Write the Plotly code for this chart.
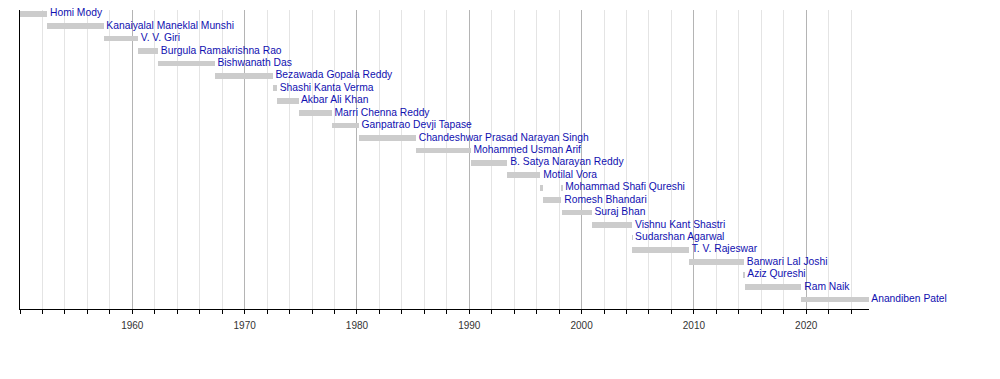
import pandas as pd
import plotly.graph_objects as go

# Governors (row order, top to bottom)
governors = [
    "Homi Mody", "Kanaiyalal Maneklal Munshi", "V. V. Giri", "Burgula Ramakrishna Rao",
    "Bishwanath Das", "Bezawada Gopala Reddy", "Shashi Kanta Verma", "Akbar Ali Khan",
    "Marri Chenna Reddy", "Ganpatrao Devji Tapase", "Chandeshwar Prasad Narayan Singh",
    "Mohammed Usman Arif", "B. Satya Narayan Reddy", "Motilal Vora",
    "Mohammad Shafi Qureshi", "Romesh Bhandari", "Suraj Bhan", "Vishnu Kant Shastri",
    "Sudarshan Agarwal", "T. V. Rajeswar", "Banwari Lal Joshi", "Aziz Qureshi",
    "Ram Naik", "Anandiben Patel",
]

# Terms of office (one entry per term)
term_holder = [
    "Homi Mody", "Kanaiyalal Maneklal Munshi", "V. V. Giri", "Burgula Ramakrishna Rao",
    "Bishwanath Das", "Bezawada Gopala Reddy", "Shashi Kanta Verma", "Akbar Ali Khan",
    "Marri Chenna Reddy", "Ganpatrao Devji Tapase", "Chandeshwar Prasad Narayan Singh",
    "Mohammed Usman Arif", "B. Satya Narayan Reddy", "Motilal Vora",
    "Mohammad Shafi Qureshi", "Romesh Bhandari", "Mohammad Shafi Qureshi", "Suraj Bhan",
    "Vishnu Kant Shastri", "Sudarshan Agarwal", "T. V. Rajeswar", "Banwari Lal Joshi",
    "Aziz Qureshi", "Ram Naik", "Anandiben Patel",
]
term_start = [
    "1949-01-02", "1952-06-02", "1957-06-10", "1960-07-01", "1962-04-16", "1967-05-01",
    "1972-07-01", "1972-11-14", "1974-10-25", "1977-10-02", "1980-02-28", "1985-03-31",
    "1990-02-12", "1993-05-26", "1996-05-03", "1996-07-19", "1998-03-17", "1998-04-20",
    "2000-11-24", "2004-07-03", "2004-07-08", "2009-07-28", "2014-06-17", "2014-07-22",
    "2019-07-29",
]
term_end = [
    "1952-06-01", "1957-06-09", "1960-06-30", "1962-04-15", "1967-04-30", "1972-06-30",
    "1972-11-13", "1974-10-24", "1977-10-01", "1980-02-27", "1985-03-31", "1990-02-11",
    "1993-05-25", "1996-05-03", "1996-07-19", "1998-03-17", "1998-04-19", "2000-11-23",
    "2004-07-02", "2004-07-07", "2009-07-27", "2014-06-17", "2014-07-21", "2019-07-28",
    "2025-08-05",
]

x_start_year = 1950
x_end_date = "2025-08-05"
tick_years = [1960, 1970, 1980, 1990, 2000, 2010, 2020]


def dec_year(s):
    d = pd.Timestamp(s)
    days = 366 if d.is_leap_year else 365
    return d.year + (d.dayofyear - 1) / days


starts = [dec_year(s) for s in term_start]
ends = [dec_year(s) for s in term_end]
rows = [governors.index(n) for n in term_holder]

# label position: end of the last term of each governor
label_x = []
for g in governors:
    label_x.append(max(e for e, n in zip(ends, term_holder) if n == g))

fig = go.Figure()
fig.add_trace(go.Bar(
    x=[e - s for s, e in zip(starts, ends)],
    base=starts,
    y=rows,
    orientation="h",
    width=0.46,
    marker=dict(color="#cccccc", line=dict(width=0)),
    hoverinfo="skip",
    showlegend=False,
))
fig.add_trace(go.Scatter(
    x=label_x,
    y=list(range(len(governors))),
    mode="text",
    text=[" " + g for g in governors],
    textposition="middle right",
    textfont=dict(family="Liberation Sans, Arial, sans-serif", size=10.3, color="#1010b0"),
    cliponaxis=False,
    hoverinfo="skip",
    showlegend=False,
))

fig.update_layout(
    width=1000, height=379,
    margin=dict(l=20, r=131, t=10, b=70),
    plot_bgcolor="white", paper_bgcolor="white",
    bargap=0,
    xaxis=dict(
        range=[x_start_year, dec_year(x_end_date)],
        tickvals=tick_years,
        ticktext=[str(y) for y in tick_years],
        ticks="outside", ticklen=4, tickcolor="black",
        ticklabelstandoff=3,
        showline=True, linecolor="black", linewidth=1,
        showgrid=True, gridcolor="#b4b4b4", gridwidth=1,
        zeroline=False,
        tickfont=dict(family="Liberation Sans, Arial, sans-serif", size=10, color="#333333"),
        minor=dict(dtick=2, tick0=1950, ticks="outside", ticklen=4, tickcolor="black",
                   showgrid=True, gridcolor="#e4e4e4", gridwidth=1),
    ),
    yaxis=dict(
        range=[23.76, -0.3],
        showticklabels=False, ticks="",
        showline=True, linecolor="black", linewidth=1,
        showgrid=False, zeroline=False,
    ),
)

fig.write_html("out.html")
